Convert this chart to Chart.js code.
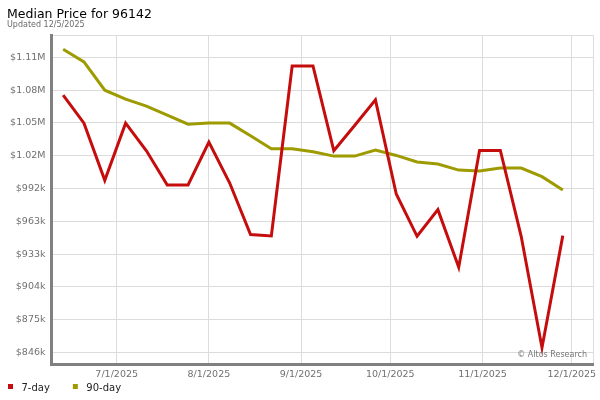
<!DOCTYPE html>
<html>
<head>
<meta charset="utf-8">
<script src="https://cdn.jsdelivr.net/npm/chart.js@4/dist/chart.umd.min.js"></script>
<style>
  html, body { margin: 0; padding: 0; background: #fff; }
  #wrap { width: 600px; height: 400px; }
</style>
</head>
<body>
<div id="wrap"><canvas id="priceChart" width="600" height="400"></canvas></div>
<script>
// weekly data points
const weekDates = ['2025-06-13', '2025-06-20', '2025-06-27', '2025-07-04', '2025-07-11', '2025-07-18', '2025-07-25',
                   '2025-08-01', '2025-08-08', '2025-08-15', '2025-08-22', '2025-08-29', '2025-09-05', '2025-09-12',
                   '2025-09-19', '2025-09-26', '2025-10-03', '2025-10-10', '2025-10-17', '2025-10-24', '2025-10-31',
                   '2025-11-07', '2025-11-14', '2025-11-21', '2025-11-28'];
const sevenDay = [1076100, 1051100, 999900, 1051100, 1026400, 995800, 995800,
                  1034100, 997500, 951400, 950200, 1102200, 1102200, 1026500,
                  1049000, 1071900, 987700, 949900, 973700, 922200, 1026600,
                  1026600, 949900, 850300, 950500];
const ninetyDay = [1117100, 1105800, 1080500, 1072500, 1066300, 1058200, 1050200,
                   1051100, 1051100, 1039800, 1028200, 1028200, 1025500, 1021600,
                   1021600, 1027000, 1022200, 1016300, 1014500, 1009100, 1008300,
                   1010900, 1010900, 1003200, 991300];
const monthTicks = ['2025-07-01', '2025-08-01', '2025-09-01', '2025-10-01', '2025-11-01', '2025-12-01'];
const yTickValues = [846000, 875333, 904667, 934000, 963333, 992667, 1022000, 1051333, 1080667, 1110000];
const yTickLabels = ['$846k', '$875k', '$904k', '$933k', '$963k', '$992k', '$1.02M', '$1.05M', '$1.08M', '$1.11M'];

const toTs = s => Date.parse(s + 'T00:00:00Z');
const fmtDate = ts => {
    const d = new Date(ts);
    return (d.getUTCMonth() + 1) + '/' + d.getUTCDate() + '/' + d.getUTCFullYear();
};

const xMin = Date.parse('2025-06-09T02:00:00Z');
const xMax = Date.parse('2025-12-08T06:00:00Z');
const yMin = 835700;
const yMax = 1129900;

const FONT = "'DejaVu Sans', sans-serif";
Chart.defaults.font.family = FONT;

// title, legend and watermark drawn around the plot
const decorations = {
    id: 'decorations',
    afterDraw(chart) {
        const ctx = chart.ctx;
        ctx.save();
        ctx.textAlign = 'left';
        ctx.textBaseline = 'alphabetic';
        ctx.fillStyle = '#000';
        ctx.font = '12.5px ' + FONT;
        ctx.fillText('Median Price for 96142', 7, 18.3);
        ctx.fillStyle = '#6a6a6a';
        ctx.font = '8px ' + FONT;
        ctx.fillText('Updated 12/5/2025', 7, 26.7);

        ctx.fillStyle = '#777';
        ctx.font = '8px ' + FONT;
        ctx.textAlign = 'right';
        ctx.fillText('\u00A9 Altos Research', 587, 357);

        ctx.textAlign = 'left';
        ctx.font = '10px ' + FONT;
        let x = 8;
        chart.data.datasets.forEach(ds => {
            ctx.fillStyle = ds.borderColor;
            ctx.fillRect(x, 384, 5, 5);
            ctx.fillStyle = '#222';
            ctx.fillText(ds.label, x + 13.5, 390.5);
            x += 13.5 + ctx.measureText(ds.label).width + 23;
        });
        ctx.restore();
    }
};

new Chart(document.getElementById('priceChart'), {
    type: 'line',
    data: {
        datasets: [{
            label: '7-day',
            data: weekDates.map((d, i) => ({x: toTs(d), y: sevenDay[i]})),
            borderColor: '#c60d0d',
            backgroundColor: '#c60d0d',
            borderWidth: 3,
            borderJoinStyle: 'miter',
            pointRadius: 0,
            tension: 0,
            fill: false
        }, {
            label: '90-day',
            data: weekDates.map((d, i) => ({x: toTs(d), y: ninetyDay[i]})),
            borderColor: '#9e9b00',
            backgroundColor: '#9e9b00',
            borderWidth: 3,
            borderJoinStyle: 'miter',
            pointRadius: 0,
            tension: 0,
            fill: false
        }]
    },
    options: {
        responsive: false,
        animation: false,
        devicePixelRatio: 1,
        layout: {
            padding: {left: 0, right: 6.7, top: 35, bottom: 0}
        },
        plugins: {
            legend: {display: false},
            title: {display: false},
            tooltip: {enabled: false}
        },
        scales: {
            x: {
                type: 'linear',
                min: xMin,
                max: xMax,
                afterBuildTicks: scale => {
                    scale.ticks = monthTicks.map(toTs).concat([xMax]).map(v => ({value: v}));
                },
                afterFit: scale => { scale.height = 36; },
                ticks: {
                    autoSkip: false,
                    maxRotation: 0,
                    padding: 5,
                    color: '#707070',
                    font: {size: 9.5},
                    callback: (value, index) => index < monthTicks.length ? fmtDate(value) : ''
                },
                grid: {color: '#dcdcdc', lineWidth: 1, drawTicks: false},
                border: {color: '#808080', width: 3}
            },
            y: {
                type: 'linear',
                min: yMin,
                max: yMax,
                afterBuildTicks: scale => {
                    scale.ticks = yTickValues.concat([yMax]).map(v => ({value: v}));
                },
                afterFit: scale => { scale.width = 51.5; },
                ticks: {
                    autoSkip: false,
                    padding: 6,
                    color: '#707070',
                    font: {size: 9.5},
                    callback: (value, index) => index < yTickLabels.length ? yTickLabels[index] : ''
                },
                grid: {color: '#dcdcdc', lineWidth: 1, drawTicks: false},
                border: {color: '#808080', width: 3}
            }
        }
    },
    plugins: [decorations]
});
</script>
</body>
</html>
